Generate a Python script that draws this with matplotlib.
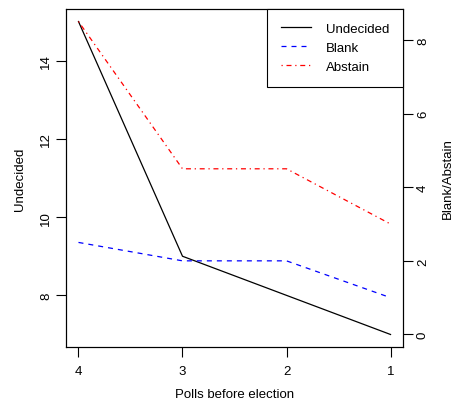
import numpy as np
import matplotlib.pyplot as plt

plt.rcParams['font.family'] = ['Liberation Sans', 'DejaVu Sans']

polls = [4, 3, 2, 1]
undecided = [15, 9, 8, 7]
blank = [2.5, 2, 2, 1]
abstain = [8.5, 4.5, 4.5, 3]

fs = 9.5
fig = plt.figure(figsize=(4.53, 4.02), dpi=100)
ax = fig.add_axes([66/453, 54/402, 337/453, 338/402])
ax2 = ax.twinx()

lw = 0.9
l1, = ax.plot(polls, undecided, color='black', lw=lw, label='Undecided')
l2, = ax2.plot(polls, blank, color='blue', lw=lw, ls=(0, (4, 4)), label='Blank')
l3, = ax2.plot(polls, abstain, color='red', lw=lw, ls=(0, (1, 3, 4, 3)), label='Abstain')

# R style padding (4%) and reversed x axis
ax.set_xlim(4.12, 0.88)
ax.set_ylim(7 - 0.32, 15 + 0.32)
ax2.set_ylim(0 - 0.34, 8.5 + 0.34)

ax.set_xticks(polls)
ax.set_yticks([8, 10, 12, 14])
ax2.set_yticks([0, 2, 4, 6, 8])

for a in (ax, ax2):
    a.tick_params(direction='out', length=7, width=0.8, labelsize=fs, pad=3)
    for s in a.spines.values():
        s.set_linewidth(0.8)
ax.tick_params(axis='x', pad=6)
for t in ax.get_yticklabels():
    t.set_rotation(90)
    t.set_va('center')
for t in ax2.get_yticklabels():
    t.set_rotation(90)
    t.set_va('center')

ax.set_xlabel('Polls before election', fontsize=fs, labelpad=8)
ax.set_ylabel('Undecided', fontsize=fs, labelpad=10)
ax2.set_ylabel('Blank/Abstain', fontsize=fs, labelpad=9)

leg = ax2.legend(handles=[l1, l2, l3], loc='upper right', fontsize=fs,
                 frameon=True, fancybox=False, borderaxespad=0,
                 handlelength=2.3, handletextpad=1.1, borderpad=1.05,
                 labelspacing=0.5)
leg.get_frame().set_edgecolor('black')
leg.get_frame().set_linewidth(0.8)
leg.get_frame().set_alpha(1)

fig.savefig('out.png', dpi=100)
